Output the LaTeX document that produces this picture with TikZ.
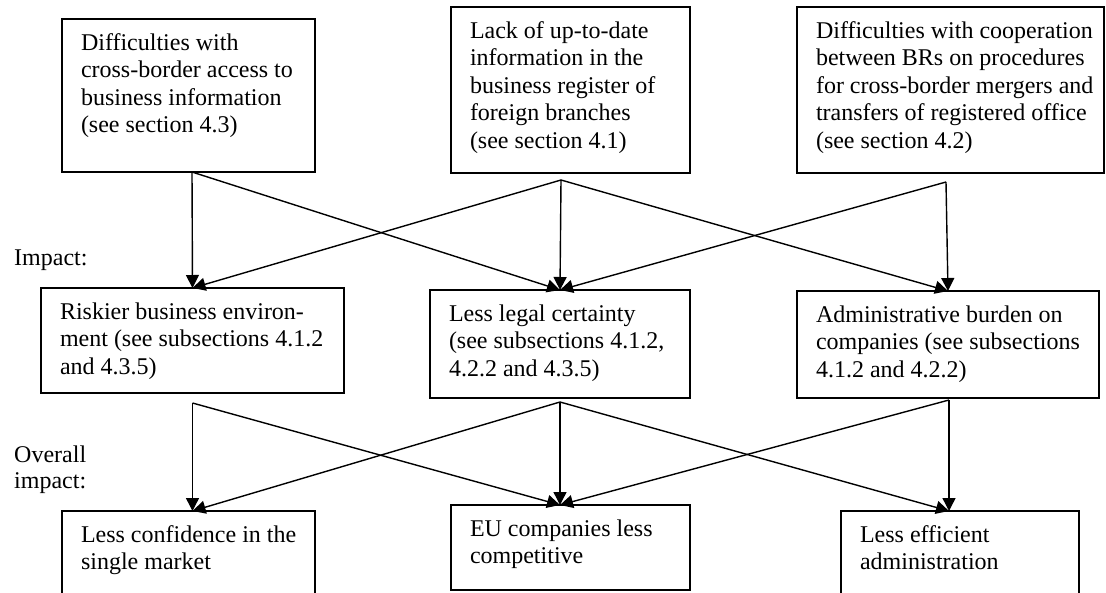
\documentclass[tikz,border=0pt]{standalone}
\usepackage{fontspec}
\setmainfont{Liberation Serif}
\usetikzlibrary{arrows.meta}
\newcommand{\bxt}[3]{\parbox[t][#1][t]{#2}{\begin{tabular}[t]{@{}l@{}}#3\end{tabular}}}
\begin{document}
\begin{tikzpicture}[x=1pt,y=-1pt,
  box/.style={draw, line width=1.5pt, anchor=north west, inner xsep=19pt, inner ysep=12pt,
    outer sep=0pt, font=\fontsize{24}{27.5}\selectfont},
  arr/.style={line width=1.4pt, -{Triangle[length=13pt,width=13pt]}},
  lbl/.style={inner sep=0pt, anchor=base west, font=\fontsize{24}{26}\selectfont}]
\useasboundingbox (0,0) rectangle (1106,592);
\clip (0,0) rectangle (1106,592);
\fill[white] (0,0) rectangle (1106,592);

% top row
\node[box] (b1) at (62,19) {\bxt{129pt}{215pt}{Difficulties with\\cross-border access to\\business information\\(see section 4.3)}};
\node[box] (b2) at (451,7) {\bxt{142pt}{201pt}{Lack of up-to-date\\information in the\\business register of\\foreign branches\\(see section 4.1)}};
\node[box] (b3) at (797,7) {\bxt{142pt}{269pt}{Difficulties with cooperation\\between BRs on procedures\\for cross-border mergers and\\transfers of registered office\\(see section 4.2)}};

% middle row
\node[box] (b4) at (41,288) {\bxt{81pt}{265pt}{Riskier business environ-\\ment (see subsections 4.1.2\\and 4.3.5)}};
\node[box] (b5) at (430,290) {\bxt{84pt}{222pt}{Less legal certainty\\(see subsections 4.1.2,\\4.2.2 and 4.3.5)}};
\node[box] (b6) at (797,291) {\bxt{83pt}{264pt}{Administrative burden on\\companies (see subsections\\4.1.2 and 4.2.2)}};

% bottom row
\node[box] (b7) at (62,511) {\bxt{75pt}{215pt}{Less confidence in the\\single market}};
\node[box] (b8) at (451,505) {\bxt{61pt}{201pt}{EU companies less\\competitive}};
\node[box] (b9) at (841,511) {\bxt{75pt}{200pt}{Less efficient\\administration}};

% side labels
\node[lbl] (impact) at (14,265) {Impact:};
\node[lbl] (overall) at (14,462) {\parbox[t]{120pt}{Overall\\impact:}};

% start points
\coordinate (s1) at ([xshift=3.5pt]b1.south);
\coordinate (s2) at ([xshift=-9.5pt,yshift=-7pt]b2.south);
\coordinate (s3) at ([xshift=-4.5pt,yshift=-9pt]b3.south);
\coordinate (s4) at ([yshift=-10pt]b4.south);
\coordinate (s5) at ([yshift=-4pt]b5.south);
\coordinate (s6) at ([xshift=1pt,yshift=-2pt]b6.south);

% level 1 -> 2
\draw[arr] (s1) -- (b4.north);
\draw[arr] (s1) -- (b5.north);
\draw[arr] (s2) -- (b4.north);
\draw[arr] (s2) -- (b5.north);
\draw[arr] (s2) -- (b6.north);
\draw[arr] (s3) -- (b5.north);
\draw[arr] (s3) -- (b6.north);

% level 2 -> 3
\draw[arr] (s4) -- (s4 |- b7.north);
\draw[arr] (s4) -- (s5 |- b8.north);
\draw[arr] (s5) -- (s4 |- b7.north);
\draw[arr] (s5) -- (s5 |- b8.north);
\draw[arr] (s5) -- (s6 |- b9.north);
\draw[arr] (s6) -- (s5 |- b8.north);
\draw[arr] (s6) -- (s6 |- b9.north);
\end{tikzpicture}
\end{document}
